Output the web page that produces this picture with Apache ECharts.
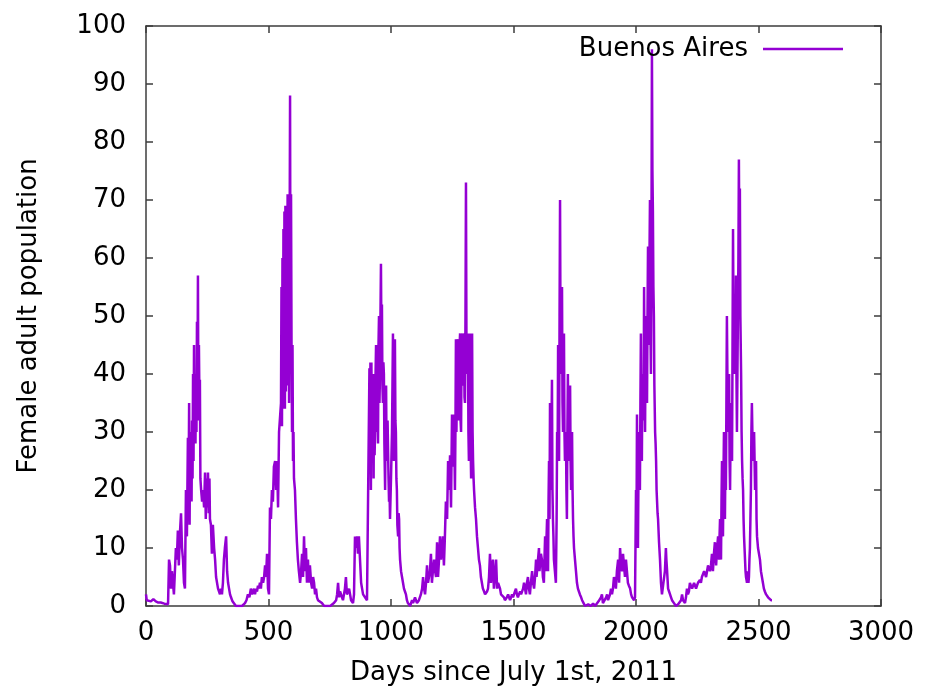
<!DOCTYPE html>
<html>
<head>
<meta charset="utf-8">
<title>Buenos Aires female adult population</title>
<script src="https://cdn.jsdelivr.net/npm/echarts@6/dist/echarts.min.js"></script>
<style>
  html, body { margin: 0; padding: 0; background: #fff; }
  #chart { width: 926px; height: 691px; }
</style>
</head>
<body>
<div id="chart"></div>
<script>
// [day, females], one array per season
const season2011 = [
  [0, 2], [3, 1], [10, 1], [20, 0.8], [30, 1.2], [40, 0.8], [50, 0.6], [60, 0.6], [75, 0.4], [90, 0.3],
  [94, 8], [98, 7], [102, 3], [106, 6], [110, 4], [114, 2], [118, 2], [122, 10], [126, 8], [130, 13],
  [134, 7], [139, 13], [143, 16], [147, 10], [151, 8], [155, 4], [159, 3], [163, 20], [167, 12], [171, 29],
  [173, 15], [176, 35], [178, 14], [180, 30], [182, 20], [184, 27], [186, 18], [188, 32], [190, 22], [192, 40],
  [194, 25], [196, 45], [198, 30], [200, 38], [202, 28], [204, 40], [206, 30], [208, 49], [210, 35], [212, 57],
  [214, 32], [216, 45], [218, 36], [220, 39], [222, 22], [225, 20], [229, 18], [233, 20], [237, 17], [241, 23],
  [244, 15], [247, 22], [250, 17], [253, 23], [256, 16], [259, 22], [261, 15], [265, 14], [269, 9], [273, 14],
  [278, 10], [282, 8], [286, 5], [290, 5], [294, 3], [298, 3], [302, 2], [306, 3], [310, 2], [314, 4],
  [318, 8], [322, 10], [327, 12], [331, 6], [335, 4], [339, 3], [343, 2], [347, 1.5], [353, 0.8], [359, 0.5],
  [367, 0], [380, 0], [392, 0], [400, 0.3]
];
const season2012 = [
  [404, 0.5], [410, 1], [416, 2], [422, 1.5], [428, 3], [433, 2], [437, 2.5], [441, 3], [445, 2], [449, 3],
  [453, 2.5], [457, 3.5], [461, 3], [465, 4], [469, 3], [473, 5], [478, 4], [482, 5], [486, 7], [490, 5],
  [494, 9], [498, 3], [502, 2], [506, 17], [510, 15], [514, 20], [518, 18], [522, 24], [527, 25], [531, 20],
  [535, 25], [539, 17], [543, 30], [547, 30], [551, 35], [553, 55], [555, 31], [557, 60], [559, 34], [561, 65],
  [563, 35], [565, 68], [567, 34], [569, 69], [571, 37], [573, 69], [575, 38], [578, 71], [580, 50], [582, 70],
  [584, 35], [586, 60], [588, 88], [590, 40], [592, 71], [594, 45], [596, 30], [598, 45], [600, 25], [602, 30],
  [604, 22], [608, 20], [612, 15], [616, 11], [620, 8], [624, 6], [629, 4], [633, 6], [637, 9], [641, 5],
  [645, 12], [649, 6], [653, 10], [657, 4], [661, 8], [665, 4], [669, 7], [674, 4], [678, 3], [682, 5],
  [686, 4], [690, 2], [694, 3], [698, 1.5], [702, 1], [710, 0.8], [718, 0.5], [727, 0], [740, 0], [752, 0],
  [759, 0.2], [767, 0.5], [776, 1], [780, 2], [784, 4], [788, 1.5], [792, 2.5], [796, 2], [800, 1.5], [804, 1],
  [808, 2], [812, 3], [816, 5], [820, 2], [825, 2.5], [829, 3], [833, 2], [837, 1], [841, 0.8], [845, 0.5],
  [849, 2], [853, 12], [857, 10], [861, 12], [865, 9], [869, 12], [873, 12], [878, 4], [882, 3], [886, 2],
  [890, 2], [894, 1.5], [898, 1.2], [902, 1], [906, 1]
];
const season2013 = [
  [910, 1], [912, 41], [914, 25], [916, 42], [918, 20], [920, 42], [922, 28], [924, 38], [927, 40], [929, 22],
  [931, 40], [933, 26], [935, 30], [937, 40], [939, 45], [941, 30], [943, 45], [945, 35], [947, 28], [949, 45],
  [951, 50], [953, 35], [955, 40], [957, 50], [959, 59], [961, 45], [963, 52], [965, 38], [967, 35], [969, 42],
  [971, 40], [973, 28], [976, 20], [978, 32], [980, 38], [982, 25], [984, 25], [986, 32], [988, 32], [990, 22],
  [992, 18], [994, 20], [996, 15], [1000, 22], [1004, 30], [1006, 38], [1008, 47], [1010, 30], [1012, 25], [1014, 40],
  [1016, 46], [1018, 32], [1020, 30], [1022, 22], [1024, 20], [1026, 14], [1029, 12], [1031, 16], [1033, 15], [1035, 10],
  [1037, 8], [1041, 6], [1045, 5], [1049, 4], [1053, 3], [1057, 2.5], [1061, 2], [1065, 1], [1069, 0.5], [1078, 0],
  [1086, 1], [1090, 0.5], [1094, 0.8], [1098, 1.5], [1102, 1.5], [1106, 0.5], [1110, 0.5], [1114, 1], [1118, 1], [1122, 2],
  [1127, 3], [1131, 5], [1135, 3], [1139, 2], [1143, 4], [1147, 7], [1151, 4], [1155, 5], [1159, 6], [1163, 9],
  [1167, 4], [1171, 6], [1176, 8], [1180, 6], [1184, 5], [1188, 11], [1192, 5], [1196, 8], [1200, 12], [1204, 8]
];
const season2014 = [
  [1208, 10], [1212, 12], [1216, 7], [1220, 12], [1224, 18], [1229, 15], [1233, 25], [1237, 20], [1241, 26], [1245, 17],
  [1249, 33], [1253, 24], [1257, 33], [1261, 20], [1263, 30], [1265, 46], [1267, 30], [1269, 30], [1271, 45], [1273, 46],
  [1275, 32], [1278, 35], [1280, 45], [1282, 47], [1284, 32], [1286, 30], [1288, 44], [1290, 47], [1292, 38], [1294, 40],
  [1296, 45], [1298, 47], [1300, 36], [1302, 35], [1304, 50], [1306, 73], [1308, 45], [1310, 40], [1312, 46], [1314, 47],
  [1316, 30], [1318, 25], [1320, 40], [1322, 47], [1324, 30], [1327, 22], [1329, 40], [1331, 47], [1333, 30], [1335, 25],
  [1337, 22], [1339, 20], [1343, 17], [1347, 15], [1351, 12], [1355, 10], [1359, 8], [1363, 7], [1367, 5], [1371, 4],
  [1375, 3], [1380, 2.5], [1384, 2], [1388, 2], [1392, 2.5], [1396, 3], [1400, 5], [1404, 9], [1408, 4], [1412, 6],
  [1416, 8], [1420, 3], [1424, 5], [1429, 8], [1433, 3], [1437, 4], [1441, 4], [1445, 3], [1449, 2], [1455, 1.8],
  [1461, 1.5], [1465, 1], [1469, 1], [1473, 1.5], [1478, 2], [1482, 1.5], [1486, 1], [1490, 1.5], [1494, 2], [1498, 1.5],
  [1502, 1.5], [1506, 2.5], [1510, 3], [1514, 2], [1518, 1.5], [1522, 2], [1527, 2.5], [1531, 2], [1535, 2], [1539, 3],
  [1543, 4], [1547, 3], [1551, 2], [1555, 4], [1559, 5], [1563, 3], [1567, 2], [1571, 4], [1576, 6], [1580, 4],
  [1584, 3], [1588, 5], [1592, 8], [1594, 5], [1596, 5], [1600, 8], [1604, 10], [1606, 6], [1608, 6], [1612, 9]
];
const season2015 = [
  [1616, 8], [1620, 5], [1624, 4], [1627, 9], [1629, 12], [1631, 7], [1633, 6], [1635, 12], [1637, 15], [1639, 8],
  [1641, 6], [1643, 18], [1645, 25], [1647, 15], [1649, 35], [1651, 22], [1653, 20], [1655, 30], [1657, 39], [1659, 20],
  [1661, 15], [1663, 12], [1665, 8], [1669, 6], [1673, 4], [1676, 15], [1678, 30], [1680, 25], [1682, 45], [1684, 30],
  [1686, 25], [1688, 50], [1690, 70], [1692, 45], [1694, 40], [1696, 48], [1698, 55], [1700, 35], [1702, 30], [1704, 40],
  [1706, 47], [1708, 30], [1710, 25], [1712, 28], [1714, 30], [1716, 20], [1718, 15], [1720, 30], [1722, 40], [1724, 30],
  [1727, 25], [1729, 35], [1731, 38], [1733, 25], [1735, 20], [1737, 26], [1739, 30], [1741, 20], [1743, 15], [1745, 12],
  [1747, 10], [1751, 8], [1755, 6], [1759, 4], [1763, 3], [1767, 2.5], [1771, 2], [1776, 1.5], [1780, 1], [1786, 0.5],
  [1792, 0], [1805, 0.3], [1815, 0], [1825, 0.4], [1833, 0], [1841, 0.3], [1847, 0.8], [1853, 1], [1857, 1.5], [1861, 2],
  [1865, 0.5], [1869, 0.8], [1873, 0.5], [1878, 1.5], [1882, 2], [1886, 1], [1890, 1], [1894, 2], [1898, 3], [1902, 2],
  [1906, 3], [1910, 5], [1914, 4], [1918, 3], [1922, 6], [1927, 8], [1931, 4], [1935, 10], [1939, 7], [1943, 6],
  [1947, 9], [1951, 7], [1955, 5], [1959, 8], [1963, 6], [1967, 4], [1971, 3.5], [1976, 3], [1980, 2], [1984, 1.5],
  [1988, 1.2], [1992, 1], [1996, 1.5]
];
const season2016 = [
  [2000, 20], [2002, 12], [2004, 33], [2006, 18], [2008, 10], [2010, 22], [2012, 30], [2014, 22], [2016, 20], [2018, 35],
  [2020, 47], [2022, 30], [2024, 25], [2026, 40], [2029, 40], [2031, 32], [2033, 55], [2035, 38], [2037, 30], [2039, 45],
  [2041, 50], [2043, 38], [2045, 35], [2047, 50], [2049, 62], [2051, 45], [2053, 45], [2055, 60], [2057, 70], [2059, 48],
  [2061, 40], [2063, 60], [2065, 96], [2067, 75], [2069, 68], [2071, 55], [2073, 50], [2075, 38], [2078, 30], [2080, 28],
  [2082, 25], [2084, 20], [2086, 18], [2088, 16], [2090, 15], [2094, 11], [2098, 8], [2102, 4], [2106, 2], [2110, 2],
  [2114, 2], [2118, 6], [2122, 10], [2124, 8], [2127, 6], [2131, 3], [2135, 2.5], [2139, 2], [2143, 1.5], [2147, 1],
  [2151, 0.8], [2155, 0.5], [2163, 0], [2172, 0.3], [2180, 0], [2184, 1], [2188, 2], [2192, 1], [2196, 0.8], [2200, 0.5],
  [2204, 1.5], [2208, 3], [2212, 2], [2216, 2.5], [2220, 4], [2224, 3.5], [2229, 3], [2233, 3.5], [2237, 4], [2241, 3.5],
  [2245, 3], [2249, 3.5], [2253, 4], [2257, 4], [2261, 4.5], [2265, 4], [2269, 5], [2273, 5], [2278, 6], [2282, 5.5],
  [2286, 5], [2290, 6], [2294, 7], [2298, 6.5], [2302, 6], [2306, 7], [2310, 9], [2314, 6], [2318, 9], [2322, 11],
  [2327, 7], [2331, 10], [2335, 12], [2339, 8], [2341, 12], [2343, 15], [2345, 10], [2347, 8]
];
const season2017 = [
  [2349, 18], [2351, 25], [2353, 15], [2355, 12], [2357, 22], [2359, 30], [2361, 20], [2363, 15], [2365, 25], [2367, 20],
  [2369, 35], [2371, 50], [2374, 35], [2376, 30], [2378, 38], [2380, 40], [2382, 25], [2384, 20], [2386, 30], [2388, 35],
  [2390, 28], [2392, 25], [2394, 45], [2396, 65], [2398, 48], [2400, 40], [2402, 45], [2404, 50], [2406, 40], [2408, 57],
  [2410, 40], [2412, 30], [2414, 40], [2416, 50], [2418, 60], [2420, 77], [2422, 60], [2424, 72], [2426, 50], [2429, 40],
  [2431, 30], [2433, 25], [2435, 22], [2437, 20], [2439, 15], [2441, 12], [2443, 10], [2445, 8], [2447, 6], [2449, 5],
  [2451, 4.5], [2453, 4], [2455, 5], [2457, 6], [2459, 4], [2461, 5], [2463, 8], [2465, 10], [2467, 15], [2469, 20],
  [2471, 30], [2473, 35], [2475, 30], [2478, 28], [2480, 25], [2482, 30], [2484, 25], [2486, 20], [2488, 22], [2490, 25],
  [2492, 15], [2494, 12], [2496, 11], [2498, 10], [2502, 9], [2506, 8], [2510, 6], [2514, 5], [2518, 4], [2522, 3],
  [2526, 2.5], [2531, 2], [2535, 1.8], [2539, 1.5], [2545, 1.2], [2551, 1], [2555, 1]
];

const xTicks = { min: 0, max: 3000, step: 500 };
const yTicks = { min: 0, max: 100, step: 10 };

const buenosAires = [].concat(season2011, season2012, season2013, season2014,
                              season2015, season2016, season2017);

const frameColor = '#3c3c3c';
const fontFamily = 'DejaVu Sans';
const fontSize = 26;

const chart = echarts.init(document.getElementById('chart'), null, { renderer: 'canvas' });

// gnuplot-like box: ticks inward on all four sides
function frameAxis(extra) {
  return Object.assign({
    type: 'value',
    axisLine: { show: true, onZero: false, lineStyle: { color: frameColor, width: 1.5 } },
    axisTick: { show: true, inside: true, length: 7, lineStyle: { color: frameColor, width: 1.5 } },
    splitLine: { show: false },
    axisLabel: { show: false }
  }, extra);
}

const plainLabel = (margin) => ({
  show: true, color: '#000', fontSize: fontSize, fontFamily: fontFamily, margin: margin,
  formatter: v => String(v)
});

const option = {
  backgroundColor: '#fff',
  animation: false,
  textStyle: { fontFamily: fontFamily },
  grid: { left: 146, right: 45, top: 26, bottom: 85, containLabel: false, outerBoundsMode: 'none' },
  legend: {
    data: ['Buenos Aires'],
    right: 78,
    top: 31,
    align: 'right',
    icon: 'rect',
    itemWidth: 80,
    itemHeight: 2.5,
    textStyle: { fontFamily: fontFamily, fontSize: fontSize, color: '#000', padding: [0, 10, 0, 0] }
  },
  xAxis: [
    frameAxis({
      position: 'bottom',
      min: xTicks.min, max: xTicks.max, interval: xTicks.step,
      axisLabel: plainLabel(14),
      name: 'Days since July 1st, 2011',
      nameLocation: 'middle',
      nameGap: 54,
      nameTextStyle: { color: '#000', fontSize: fontSize, fontFamily: fontFamily }
    }),
    frameAxis({ position: 'top', min: xTicks.min, max: xTicks.max, interval: xTicks.step })
  ],
  yAxis: [
    frameAxis({
      position: 'left',
      min: yTicks.min, max: yTicks.max, interval: yTicks.step,
      axisLabel: plainLabel(20),
      name: 'Female adult population',
      nameLocation: 'middle',
      nameGap: 104,
      nameTextStyle: { color: '#000', fontSize: fontSize, fontFamily: fontFamily }
    }),
    frameAxis({ position: 'right', min: yTicks.min, max: yTicks.max, interval: yTicks.step })
  ],
  series: [{
    name: 'Buenos Aires',
    type: 'line',
    data: buenosAires,
    showSymbol: false,
    symbol: 'none',
    itemStyle: { color: '#9400d3' },
    lineStyle: { color: '#9400d3', width: 2.5 }
  }]
};

chart.setOption(option);
</script>
</body>
</html>
